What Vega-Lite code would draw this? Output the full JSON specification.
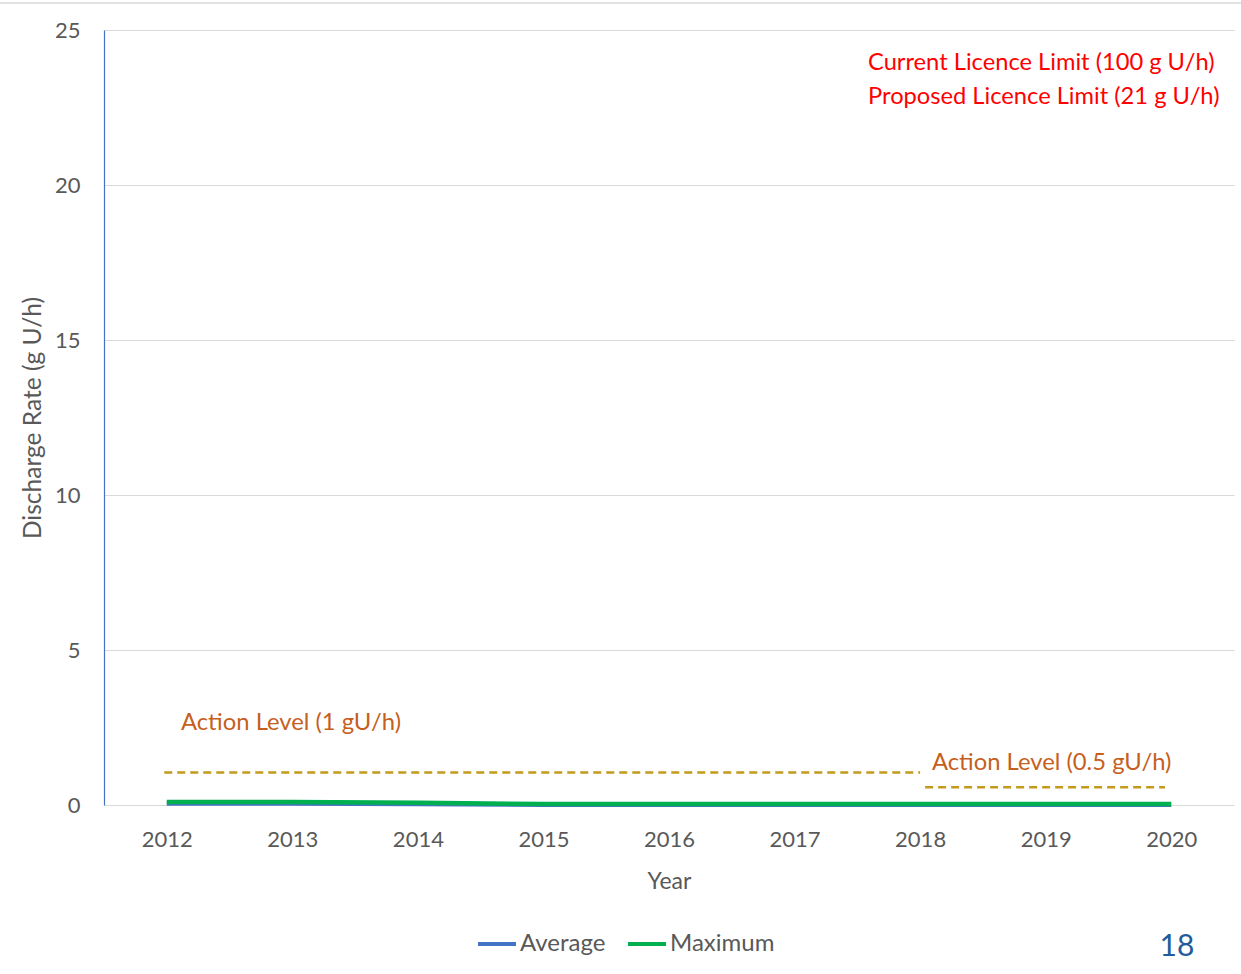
{
  "$schema": "https://vega.github.io/schema/vega-lite/v6.json",
  "width": 1130,
  "height": 775,
  "autosize": "none",
  "padding": {"left": 104, "top": 30, "right": 7, "bottom": 169},
  "background": "white",
  "config": {
    "view": {"stroke": null},
    "font": "Lato",
    "axis": {"labelFont": "Lato", "titleFont": "Lato", "labelColor": "#595959", "titleColor": "#595959", "labelFontSize": 22, "titleFontWeight": "normal"},
    "legend": {"labelFont": "Lato"}
  },
  "datasets": {
    "series": [
      {"year": 2012, "series": "Average", "rate": 0.05},
      {"year": 2013, "series": "Average", "rate": 0.05},
      {"year": 2014, "series": "Average", "rate": 0.03},
      {"year": 2015, "series": "Average", "rate": 0.01},
      {"year": 2016, "series": "Average", "rate": 0.01},
      {"year": 2017, "series": "Average", "rate": 0.01},
      {"year": 2018, "series": "Average", "rate": 0.01},
      {"year": 2019, "series": "Average", "rate": 0.01},
      {"year": 2020, "series": "Average", "rate": 0.01},
      {"year": 2012, "series": "Maximum", "rate": 0.1},
      {"year": 2013, "series": "Maximum", "rate": 0.1},
      {"year": 2014, "series": "Maximum", "rate": 0.07},
      {"year": 2015, "series": "Maximum", "rate": 0.03},
      {"year": 2016, "series": "Maximum", "rate": 0.03},
      {"year": 2017, "series": "Maximum", "rate": 0.03},
      {"year": 2018, "series": "Maximum", "rate": 0.03},
      {"year": 2019, "series": "Maximum", "rate": 0.03},
      {"year": 2020, "series": "Maximum", "rate": 0.03}
    ],
    "levels": [
      {"level": "Action Level (1 gU/h)", "start": 2011.98, "end": 2018.0, "value": 1.05},
      {"level": "Action Level (0.5 gU/h)", "start": 2018.04, "end": 2019.95, "value": 0.57}
    ],
    "border": [
      {"start": 2010.67, "end": 2020.56, "value": 25.87}
    ],
    "redtext": [
      {"text": "Current Licence Limit (100 g U/h)", "x": 2017.585, "y": 23.92},
      {"text": "Proposed Licence Limit (21 g U/h)", "x": 2017.585, "y": 22.85}
    ],
    "orangetext": [
      {"text": "Action Level (1 gU/h)", "x": 2012.113, "y": 2.63},
      {"text": "Action Level (0.5 gU/h)", "x": 2018.094, "y": 1.34}
    ],
    "page": [
      {"text": "18", "x": 2020.046, "y": -4.58}
    ]
  },
  "layer": [
    {
      "data": {"name": "series"},
      "mark": {"type": "line", "strokeCap": "butt", "strokeWidth": 4.5},
      "encoding": {
        "x": {
          "field": "year", "type": "quantitative",
          "scale": {"domain": [2011.5, 2020.5], "nice": false, "zero": false},
          "axis": {"values": [2012, 2013, 2014, 2015, 2016, 2017, 2018, 2019, 2020], "format": "d", "grid": false, "domain": false, "ticks": false, "labelPadding": 24, "title": "Year", "titleFontSize": 23, "titlePadding": 20}
        },
        "y": {
          "field": "rate", "type": "quantitative",
          "scale": {"domain": [0, 25], "nice": false},
          "axis": {"values": [0, 5, 10, 15, 20, 25], "grid": true, "gridColor": "#d9d9d9", "gridWidth": 1, "domain": true, "domainColor": "#4472C4", "domainWidth": 1.2, "ticks": false, "labelPadding": 24, "title": "Discharge Rate (g U/h)", "titleFontSize": 24.5, "titlePadding": 9}
        },
        "color": {
          "field": "series", "type": "nominal",
          "scale": {"domain": ["Average", "Maximum"], "range": ["#4472C4", "#00B050"]},
          "legend": {"title": null, "orient": "none", "direction": "horizontal", "legendX": 372, "legendY": 893, "symbolType": "stroke", "symbolSize": 1444, "symbolStrokeWidth": 4, "labelFontSize": 24, "labelColor": "#595959", "labelOffset": 2, "columnPadding": 14}
        }
      }
    },
    {
      "data": {"name": "levels"},
      "mark": {"type": "rule", "color": "#C49A1C", "strokeWidth": 2.5, "strokeDash": [8, 5]},
      "encoding": {
        "x": {"field": "start", "type": "quantitative"},
        "x2": {"field": "end"},
        "y": {"field": "value", "type": "quantitative"}
      }
    },
    {
      "data": {"name": "border"},
      "mark": {"type": "rule", "color": "#d9d9d9", "strokeWidth": 1.5},
      "encoding": {
        "x": {"field": "start", "type": "quantitative"},
        "x2": {"field": "end"},
        "y": {"field": "value", "type": "quantitative"}
      }
    },
    {
      "data": {"name": "redtext"},
      "mark": {"type": "text", "align": "left", "baseline": "middle", "fontSize": 23.7, "color": "#FF0000", "font": "Lato"},
      "encoding": {
        "x": {"field": "x", "type": "quantitative"},
        "y": {"field": "y", "type": "quantitative"},
        "text": {"field": "text"}
      }
    },
    {
      "data": {"name": "orangetext"},
      "mark": {"type": "text", "align": "left", "baseline": "middle", "fontSize": 23.8, "color": "#C65F1E", "font": "Lato"},
      "encoding": {
        "x": {"field": "x", "type": "quantitative"},
        "y": {"field": "y", "type": "quantitative"},
        "text": {"field": "text"}
      }
    },
    {
      "data": {"name": "page"},
      "mark": {"type": "text", "align": "center", "baseline": "middle", "fontSize": 30, "color": "#1F5C99", "font": "Lato"},
      "encoding": {
        "x": {"field": "x", "type": "quantitative"},
        "y": {"field": "y", "type": "quantitative"},
        "text": {"field": "text"}
      }
    }
  ]
}
